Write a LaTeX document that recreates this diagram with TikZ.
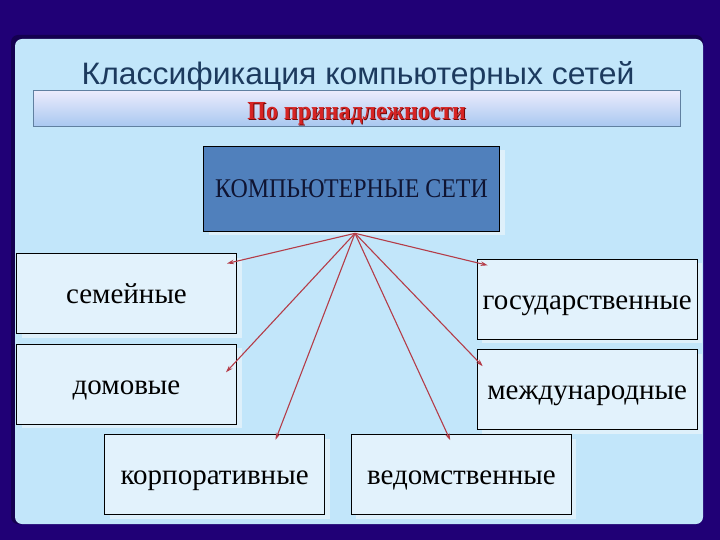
\documentclass[tikz,border=0pt]{standalone}
\usepackage{fontspec}
\usepackage{graphicx}
\setmainfont{Liberation Serif}
\newfontfamily\titlefont{Liberation Sans}
\usetikzlibrary{arrows.meta,calc,shadows}
\definecolor{bgnavy}{RGB}{32,0,118}
\definecolor{panelblue}{RGB}{194,230,250}
\definecolor{panelshade}{RGB}{20,0,80}
\definecolor{boxfill}{RGB}{226,242,252}
\definecolor{netfill}{RGB}{80,128,188}
\definecolor{titlecol}{RGB}{28,58,94}
\definecolor{bannertop}{RGB}{236,236,252}
\definecolor{bannerbot}{RGB}{168,200,240}
\definecolor{bannerline}{RGB}{96,128,160}
\definecolor{redtext}{RGB}{214,36,36}
\definecolor{redshade}{RGB}{110,10,10}
\definecolor{arrowcol}{RGB}{180,60,72}
\definecolor{nettext}{RGB}{15,20,50}
\definecolor{shadowcol}{RGB}{222,240,250}
\tikzset{
  catbox/.style={draw=black, line width=0.8pt, fill=boxfill, minimum width=220pt,
    minimum height=80pt, inner sep=0pt, outer sep=0pt, text height=24pt, text depth=4pt,
    font=\fontsize{29}{29}\selectfont,
    drop shadow={shadow xshift=5pt, shadow yshift=-4pt, fill=shadowcol, opacity=1}},
  link/.style={draw=arrowcol, line width=1.1pt, -{Stealth[length=7pt,width=4.5pt]}},
  subtext/.style={font=\bfseries\fontsize{26}{26}\selectfont, inner sep=0pt, anchor=base}
}
\begin{document}
\begin{tikzpicture}[x=1pt,y=-1pt]
\useasboundingbox (0,0) rectangle (720,540);
\fill[bgnavy] (0,0) rectangle (720,540);
\fill[panelshade, rounded corners=7pt] (11,35) rectangle (703,524);
\fill[panelblue, rounded corners=7pt] (15,39) rectangle (703,524);
\node[font=\titlefont\fontsize{31}{31}\selectfont, text=titlecol, inner sep=0pt, anchor=base] (title) at (358,85) {\scalebox{1.03}[1]{Классификация компьютерных сетей}};
\node[draw=bannerline, line width=0.6pt, top color=bannertop, bottom color=bannerbot,
  minimum width=647pt, minimum height=36pt, inner sep=0pt] (banner) at (357,108.5) {};
\node[subtext, text=redshade] (subshade) at (357.6,120.8) {\scalebox{0.92}[1]{По принадлежности}};
\node[subtext, text=redtext] (sub) at (356.7,120) {\scalebox{0.92}[1]{По принадлежности}};
\node[draw=black, line width=0.8pt, fill=netfill, minimum width=296pt, minimum height=85pt,
  inner sep=0pt, font=\fontsize{27}{27}\selectfont, text=nettext,
  drop shadow={shadow xshift=5pt, shadow yshift=-4pt, fill=shadowcol, opacity=1}] (net) at (351.5,188.7) {\scalebox{0.886}[1]{КОМПЬЮТЕРНЫЕ СЕТИ}};
\node[catbox] (sem) at (126.5,293.5) {семейные};
\node[catbox] (dom) at (126.5,384.3) {домовые};
\node[catbox] (korp) at (214.6,474.8) {корпоративные};
\node[catbox] (ved) at (461.4,474.8) {ведомственные};
\node[catbox] (gos) at (587.2,299.3) {государственные};
\node[catbox] (mezh) at (587.2,389.8) {международные};
\coordinate (hub) at ($(net.south)+(3.5,1.7)$);
\draw[link] (hub) -- ($(sem.north east)+(-9.5,10)$);
\draw[link] (hub) -- ($(dom.north east)+(-10.5,28)$);
\draw[link] (hub) -- ($(korp.north east)+(-49,5)$);
\draw[link] (hub) -- ($(ved.north west)+(98.8,5.4)$);
\draw[link] (hub) -- ($(gos.north west)+(10.5,6)$);
\draw[link] (hub) -- ($(mezh.north west)+(5.5,16.4)$);
\end{tikzpicture}
\end{document}
